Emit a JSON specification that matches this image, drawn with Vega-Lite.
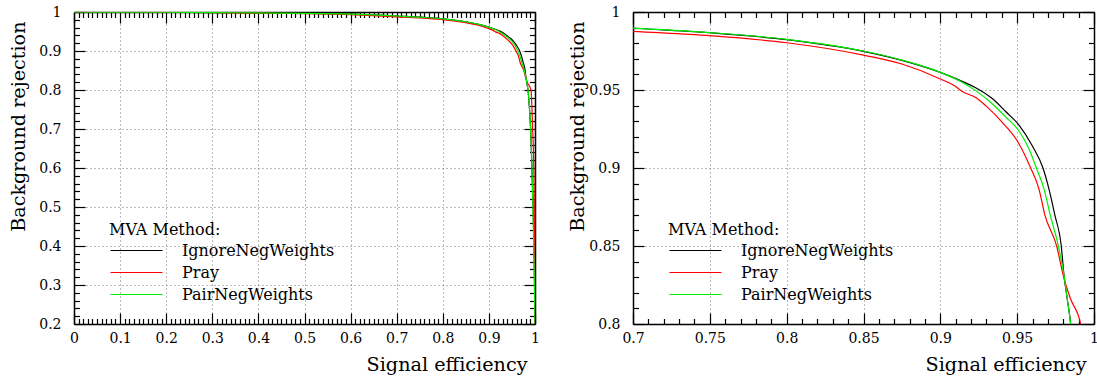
{
  "$schema": "https://vega.github.io/schema/vega-lite/v6.json",
  "padding": {"left": 9, "top": 5, "right": 0, "bottom": 0},
  "background": "white",
  "spacing": 98,
  "bounds": "flush",
  "config": {
    "font": "DejaVu Serif",
    "view": {"stroke": null},
    "axis": {
      "labelFont": "DejaVu Serif", "labelFontSize": 14, "labelColor": "black",
      "titleFont": "DejaVu Serif", "titleFontSize": 19.2, "titleFontWeight": "normal", "titleColor": "black",
      "domainColor": "black", "domainWidth": 1.5, "tickColor": "black", "tickWidth": 1.2,
      "gridColor": "#777777", "gridDash": [1, 3], "gridWidth": 1,
      "labelFlush": false, "labelOverlap": false, "labelBound": false
    },
    "legend": {
      "titleFont": "DejaVu Serif", "titleFontSize": 16, "titleFontWeight": "normal", "titleColor": "black",
      "labelFont": "DejaVu Serif", "labelFontSize": 16, "labelColor": "black"
    }
  },
  "datasets": {
    "roc": [
      {"m": "IgnoreNegWeights", "x": 0.0, "y": 1.0},
      {"m": "IgnoreNegWeights", "x": 0.1, "y": 0.9998},
      {"m": "IgnoreNegWeights", "x": 0.2, "y": 0.9993},
      {"m": "IgnoreNegWeights", "x": 0.3, "y": 0.9985},
      {"m": "IgnoreNegWeights", "x": 0.4, "y": 0.9977},
      {"m": "IgnoreNegWeights", "x": 0.5, "y": 0.9966},
      {"m": "IgnoreNegWeights", "x": 0.6, "y": 0.9945},
      {"m": "IgnoreNegWeights", "x": 0.65, "y": 0.9925},
      {"m": "IgnoreNegWeights", "x": 0.7, "y": 0.9896},
      {"m": "IgnoreNegWeights", "x": 0.75, "y": 0.9867},
      {"m": "IgnoreNegWeights", "x": 0.8, "y": 0.9823},
      {"m": "IgnoreNegWeights", "x": 0.85, "y": 0.9748},
      {"m": "IgnoreNegWeights", "x": 0.875, "y": 0.9690},
      {"m": "IgnoreNegWeights", "x": 0.9, "y": 0.9613},
      {"m": "IgnoreNegWeights", "x": 0.915, "y": 0.9552},
      {"m": "IgnoreNegWeights", "x": 0.923, "y": 0.9515},
      {"m": "IgnoreNegWeights", "x": 0.9338, "y": 0.9445},
      {"m": "IgnoreNegWeights", "x": 0.9425, "y": 0.9362},
      {"m": "IgnoreNegWeights", "x": 0.9512, "y": 0.9275},
      {"m": "IgnoreNegWeights", "x": 0.9598, "y": 0.9143},
      {"m": "IgnoreNegWeights", "x": 0.9668, "y": 0.9},
      {"m": "IgnoreNegWeights", "x": 0.9707, "y": 0.8865},
      {"m": "IgnoreNegWeights", "x": 0.9745, "y": 0.87},
      {"m": "IgnoreNegWeights", "x": 0.9787, "y": 0.85},
      {"m": "IgnoreNegWeights", "x": 0.9805, "y": 0.831},
      {"m": "IgnoreNegWeights", "x": 0.9826, "y": 0.816},
      {"m": "IgnoreNegWeights", "x": 0.9848, "y": 0.8},
      {"m": "IgnoreNegWeights", "x": 0.9875, "y": 0.76},
      {"m": "IgnoreNegWeights", "x": 0.9905, "y": 0.7},
      {"m": "IgnoreNegWeights", "x": 0.9925, "y": 0.63},
      {"m": "IgnoreNegWeights", "x": 0.994, "y": 0.57},
      {"m": "IgnoreNegWeights", "x": 0.996, "y": 0.5},
      {"m": "IgnoreNegWeights", "x": 0.9985, "y": 0.35},
      {"m": "IgnoreNegWeights", "x": 1.0, "y": 0.2},
      {"m": "Pray", "x": 0.0, "y": 1.0},
      {"m": "Pray", "x": 0.1, "y": 0.9997},
      {"m": "Pray", "x": 0.2, "y": 0.9991},
      {"m": "Pray", "x": 0.3, "y": 0.9982},
      {"m": "Pray", "x": 0.4, "y": 0.9972},
      {"m": "Pray", "x": 0.5, "y": 0.9958},
      {"m": "Pray", "x": 0.6, "y": 0.9932},
      {"m": "Pray", "x": 0.65, "y": 0.9907},
      {"m": "Pray", "x": 0.7, "y": 0.9876},
      {"m": "Pray", "x": 0.75, "y": 0.9848},
      {"m": "Pray", "x": 0.8, "y": 0.9803},
      {"m": "Pray", "x": 0.85, "y": 0.9724},
      {"m": "Pray", "x": 0.875, "y": 0.9667},
      {"m": "Pray", "x": 0.9, "y": 0.9571},
      {"m": "Pray", "x": 0.91, "y": 0.9522},
      {"m": "Pray", "x": 0.9143, "y": 0.9490},
      {"m": "Pray", "x": 0.923, "y": 0.9452},
      {"m": "Pray", "x": 0.9295, "y": 0.940},
      {"m": "Pray", "x": 0.9403, "y": 0.9293},
      {"m": "Pray", "x": 0.95, "y": 0.9175},
      {"m": "Pray", "x": 0.9588, "y": 0.9},
      {"m": "Pray", "x": 0.9642, "y": 0.8865},
      {"m": "Pray", "x": 0.968, "y": 0.87},
      {"m": "Pray", "x": 0.9757, "y": 0.85},
      {"m": "Pray", "x": 0.980, "y": 0.831},
      {"m": "Pray", "x": 0.9848, "y": 0.816},
      {"m": "Pray", "x": 0.9913, "y": 0.8},
      {"m": "Pray", "x": 0.9935, "y": 0.75},
      {"m": "Pray", "x": 0.9948, "y": 0.7},
      {"m": "Pray", "x": 0.996, "y": 0.67},
      {"m": "Pray", "x": 0.9985, "y": 0.5},
      {"m": "Pray", "x": 1.0, "y": 0.2},
      {"m": "PairNegWeights", "x": 0.0, "y": 1.0},
      {"m": "PairNegWeights", "x": 0.1, "y": 0.9998},
      {"m": "PairNegWeights", "x": 0.2, "y": 0.9993},
      {"m": "PairNegWeights", "x": 0.3, "y": 0.9985},
      {"m": "PairNegWeights", "x": 0.4, "y": 0.9977},
      {"m": "PairNegWeights", "x": 0.5, "y": 0.9966},
      {"m": "PairNegWeights", "x": 0.6, "y": 0.9945},
      {"m": "PairNegWeights", "x": 0.65, "y": 0.9925},
      {"m": "PairNegWeights", "x": 0.7, "y": 0.9897},
      {"m": "PairNegWeights", "x": 0.75, "y": 0.9868},
      {"m": "PairNegWeights", "x": 0.8, "y": 0.9825},
      {"m": "PairNegWeights", "x": 0.85, "y": 0.9750},
      {"m": "PairNegWeights", "x": 0.875, "y": 0.9692},
      {"m": "PairNegWeights", "x": 0.9, "y": 0.9613},
      {"m": "PairNegWeights", "x": 0.915, "y": 0.9545},
      {"m": "PairNegWeights", "x": 0.923, "y": 0.9496},
      {"m": "PairNegWeights", "x": 0.9338, "y": 0.9412},
      {"m": "PairNegWeights", "x": 0.9425, "y": 0.9328},
      {"m": "PairNegWeights", "x": 0.9512, "y": 0.9237},
      {"m": "PairNegWeights", "x": 0.9577, "y": 0.9122},
      {"m": "PairNegWeights", "x": 0.9625, "y": 0.9},
      {"m": "PairNegWeights", "x": 0.9675, "y": 0.8865},
      {"m": "PairNegWeights", "x": 0.9715, "y": 0.87},
      {"m": "PairNegWeights", "x": 0.9768, "y": 0.85},
      {"m": "PairNegWeights", "x": 0.9805, "y": 0.831},
      {"m": "PairNegWeights", "x": 0.9826, "y": 0.816},
      {"m": "PairNegWeights", "x": 0.9848, "y": 0.8},
      {"m": "PairNegWeights", "x": 0.9878, "y": 0.76},
      {"m": "PairNegWeights", "x": 0.9905, "y": 0.7},
      {"m": "PairNegWeights", "x": 0.993, "y": 0.62},
      {"m": "PairNegWeights", "x": 0.9945, "y": 0.55},
      {"m": "PairNegWeights", "x": 0.9955, "y": 0.5},
      {"m": "PairNegWeights", "x": 0.998, "y": 0.35},
      {"m": "PairNegWeights", "x": 1.0, "y": 0.2}
    ]
  },
  "resolve": {"scale": {"color": "independent"}, "legend": {"color": "independent"}},
  "hconcat": [
    {
      "width": 461,
      "height": 312,
      "data": {"name": "roc"},
      "resolve": {"axis": {"x": "independent", "y": "independent"}},
      "layer": [
        {
          "mark": {"type": "line", "strokeWidth": 1.2, "clip": true, "interpolate": "monotone"},
          "encoding": {
            "x": {
              "field": "x", "type": "quantitative",
              "scale": {"domain": [0, 1], "nice": false, "zero": false},
              "axis": {
                "orient": "bottom",
                "values": [0,0.01,0.02,0.03,0.04,0.05,0.06,0.07,0.08,0.09,0.1,0.11,0.12,0.13,0.14,0.15,0.16,0.17,0.18,0.19,0.2,0.21,0.22,0.23,0.24,0.25,0.26,0.27,0.28,0.29,0.3,0.31,0.32,0.33,0.34,0.35,0.36,0.37,0.38,0.39,0.4,0.41,0.42,0.43,0.44,0.45,0.46,0.47,0.48,0.49,0.5,0.51,0.52,0.53,0.54,0.55,0.56,0.57,0.58,0.59,0.6,0.61,0.62,0.63,0.64,0.65,0.66,0.67,0.68,0.69,0.7,0.71,0.72,0.73,0.74,0.75,0.76,0.77,0.78,0.79,0.8,0.81,0.82,0.83,0.84,0.85,0.86,0.87,0.88,0.89,0.9,0.91,0.92,0.93,0.94,0.95,0.96,0.97,0.98,0.99,1],
                "tickSize": {"condition": {"test": "abs(datum.value*10-round(datum.value*10))<1e-6", "value": -11}, "value": -5.5},
                "labelExpr": "abs(datum.value*10-round(datum.value*10))<1e-6 ? format(datum.value,'~g') : ''",
                "labelPadding": 18,
                "grid": true,
                "gridOpacity": {"condition": {"test": "abs(datum.value*10-round(datum.value*10))<1e-6 && datum.value>0.001 && datum.value<0.999", "value": 1}, "value": 0},
                "title": "Signal efficiency",
                "titleX": 453, "titleY": 46.5, "titleAlign": "right", "titleBaseline": "alphabetic", "titleAngle": 0
              }
            },
            "y": {
              "field": "y", "type": "quantitative",
              "scale": {"domain": [0.2, 1], "nice": false, "zero": false},
              "axis": {
                "orient": "left",
                "values": [0.2,0.22,0.24,0.26,0.28,0.3,0.32,0.34,0.36,0.38,0.4,0.42,0.44,0.46,0.48,0.5,0.52,0.54,0.56,0.58,0.6,0.62,0.64,0.66,0.68,0.7,0.72,0.74,0.76,0.78,0.8,0.82,0.84,0.86,0.88,0.9,0.92,0.94,0.96,0.98,1],
                "tickSize": {"condition": {"test": "abs(datum.value*10-round(datum.value*10))<1e-6", "value": -11}, "value": -5.5},
                "labelExpr": "abs(datum.value*10-round(datum.value*10))<1e-6 ? format(datum.value,'~g') : ''",
                "labelPadding": 24,
                "grid": true,
                "gridOpacity": {"condition": {"test": "abs(datum.value*10-round(datum.value*10))<1e-6 && datum.value>0.201 && datum.value<0.999", "value": 1}, "value": 0},
                "title": "Background rejection",
                "titleX": -50, "titleY": 9, "titleAlign": "right", "titleBaseline": "alphabetic", "titleAngle": 270
              }
            },
            "color": {
              "field": "m", "type": "nominal",
              "scale": {"domain": ["IgnoreNegWeights", "Pray", "PairNegWeights"], "range": ["#000000", "#ff0000", "#00ee00"]},
              "legend": {
                "orient": "none", "legendX": 35, "legendY": 209.5, "padding": 0,
                "title": "MVA Method:", "titlePadding": 5,
                "symbolType": "M-1,0H7", "symbolSize": 169, "symbolStrokeWidth": 1.2,
                "labelOffset": 57, "rowPadding": 6
              }
            }
          }
        },
        {
          "mark": {"type": "line", "opacity": 0, "clip": true},
          "encoding": {
            "x": {
              "field": "x", "type": "quantitative",
              "scale": {"domain": [0, 1], "nice": false, "zero": false},
              "axis": {
                "orient": "top",
                "values": [0,0.01,0.02,0.03,0.04,0.05,0.06,0.07,0.08,0.09,0.1,0.11,0.12,0.13,0.14,0.15,0.16,0.17,0.18,0.19,0.2,0.21,0.22,0.23,0.24,0.25,0.26,0.27,0.28,0.29,0.3,0.31,0.32,0.33,0.34,0.35,0.36,0.37,0.38,0.39,0.4,0.41,0.42,0.43,0.44,0.45,0.46,0.47,0.48,0.49,0.5,0.51,0.52,0.53,0.54,0.55,0.56,0.57,0.58,0.59,0.6,0.61,0.62,0.63,0.64,0.65,0.66,0.67,0.68,0.69,0.7,0.71,0.72,0.73,0.74,0.75,0.76,0.77,0.78,0.79,0.8,0.81,0.82,0.83,0.84,0.85,0.86,0.87,0.88,0.89,0.9,0.91,0.92,0.93,0.94,0.95,0.96,0.97,0.98,0.99,1],
                "tickSize": {"condition": {"test": "abs(datum.value*10-round(datum.value*10))<1e-6", "value": -11}, "value": -5.5},
                "labels": false, "grid": false, "title": null
              }
            },
            "y": {
              "field": "y", "type": "quantitative",
              "scale": {"domain": [0.2, 1], "nice": false, "zero": false},
              "axis": {
                "orient": "right",
                "values": [0.2,0.22,0.24,0.26,0.28,0.3,0.32,0.34,0.36,0.38,0.4,0.42,0.44,0.46,0.48,0.5,0.52,0.54,0.56,0.58,0.6,0.62,0.64,0.66,0.68,0.7,0.72,0.74,0.76,0.78,0.8,0.82,0.84,0.86,0.88,0.9,0.92,0.94,0.96,0.98,1],
                "tickSize": {"condition": {"test": "abs(datum.value*10-round(datum.value*10))<1e-6", "value": -11}, "value": -5.5},
                "labels": false, "grid": false, "title": null
              }
            }
          }
        }
      ]
    },
    {
      "width": 461,
      "height": 312,
      "data": {"name": "roc"},
      "resolve": {"axis": {"x": "independent", "y": "independent"}},
      "layer": [
        {
          "mark": {"type": "line", "strokeWidth": 1.2, "clip": true, "interpolate": "monotone"},
          "encoding": {
            "x": {
              "field": "x", "type": "quantitative",
              "scale": {"domain": [0.7, 1], "nice": false, "zero": false},
              "axis": {
                "orient": "bottom",
                "values": [0.7,0.71,0.72,0.73,0.74,0.75,0.76,0.77,0.78,0.79,0.8,0.81,0.82,0.83,0.84,0.85,0.86,0.87,0.88,0.89,0.9,0.91,0.92,0.93,0.94,0.95,0.96,0.97,0.98,0.99,1],
                "tickSize": {"condition": {"test": "abs(datum.value*20-round(datum.value*20))<1e-6", "value": -11}, "value": -5.5},
                "labelExpr": "abs(datum.value*20-round(datum.value*20))<1e-6 ? format(datum.value,'~g') : ''",
                "labelPadding": 18,
                "grid": true,
                "gridOpacity": {"condition": {"test": "abs(datum.value*20-round(datum.value*20))<1e-6 && datum.value>0.701 && datum.value<0.999", "value": 1}, "value": 0},
                "title": "Signal efficiency",
                "titleX": 453, "titleY": 46.5, "titleAlign": "right", "titleBaseline": "alphabetic", "titleAngle": 0
              }
            },
            "y": {
              "field": "y", "type": "quantitative",
              "scale": {"domain": [0.8, 1], "nice": false, "zero": false},
              "axis": {
                "orient": "left",
                "values": [0.8,0.81,0.82,0.83,0.84,0.85,0.86,0.87,0.88,0.89,0.9,0.91,0.92,0.93,0.94,0.95,0.96,0.97,0.98,0.99,1],
                "tickSize": {"condition": {"test": "abs(datum.value*20-round(datum.value*20))<1e-6", "value": -11}, "value": -5.5},
                "labelExpr": "abs(datum.value*20-round(datum.value*20))<1e-6 ? format(datum.value,'~g') : ''",
                "labelPadding": 24,
                "grid": true,
                "gridOpacity": {"condition": {"test": "abs(datum.value*20-round(datum.value*20))<1e-6 && datum.value>0.801 && datum.value<0.999", "value": 1}, "value": 0},
                "title": "Background rejection",
                "titleX": -50, "titleY": 9, "titleAlign": "right", "titleBaseline": "alphabetic", "titleAngle": 270
              }
            },
            "color": {
              "field": "m", "type": "nominal",
              "scale": {"domain": ["IgnoreNegWeights", "Pray", "PairNegWeights"], "range": ["#000000", "#ff0000", "#00ee00"]},
              "legend": {
                "orient": "none", "legendX": 35, "legendY": 209.5, "padding": 0,
                "title": "MVA Method:", "titlePadding": 5,
                "symbolType": "M-1,0H7", "symbolSize": 169, "symbolStrokeWidth": 1.2,
                "labelOffset": 57, "rowPadding": 6
              }
            }
          }
        },
        {
          "mark": {"type": "line", "opacity": 0, "clip": true},
          "encoding": {
            "x": {
              "field": "x", "type": "quantitative",
              "scale": {"domain": [0.7, 1], "nice": false, "zero": false},
              "axis": {
                "orient": "top",
                "values": [0.7,0.71,0.72,0.73,0.74,0.75,0.76,0.77,0.78,0.79,0.8,0.81,0.82,0.83,0.84,0.85,0.86,0.87,0.88,0.89,0.9,0.91,0.92,0.93,0.94,0.95,0.96,0.97,0.98,0.99,1],
                "tickSize": {"condition": {"test": "abs(datum.value*20-round(datum.value*20))<1e-6", "value": -11}, "value": -5.5},
                "labels": false, "grid": false, "title": null
              }
            },
            "y": {
              "field": "y", "type": "quantitative",
              "scale": {"domain": [0.8, 1], "nice": false, "zero": false},
              "axis": {
                "orient": "right",
                "values": [0.8,0.81,0.82,0.83,0.84,0.85,0.86,0.87,0.88,0.89,0.9,0.91,0.92,0.93,0.94,0.95,0.96,0.97,0.98,0.99,1],
                "tickSize": {"condition": {"test": "abs(datum.value*20-round(datum.value*20))<1e-6", "value": -11}, "value": -5.5},
                "labels": false, "grid": false, "title": null
              }
            }
          }
        }
      ]
    }
  ]
}
